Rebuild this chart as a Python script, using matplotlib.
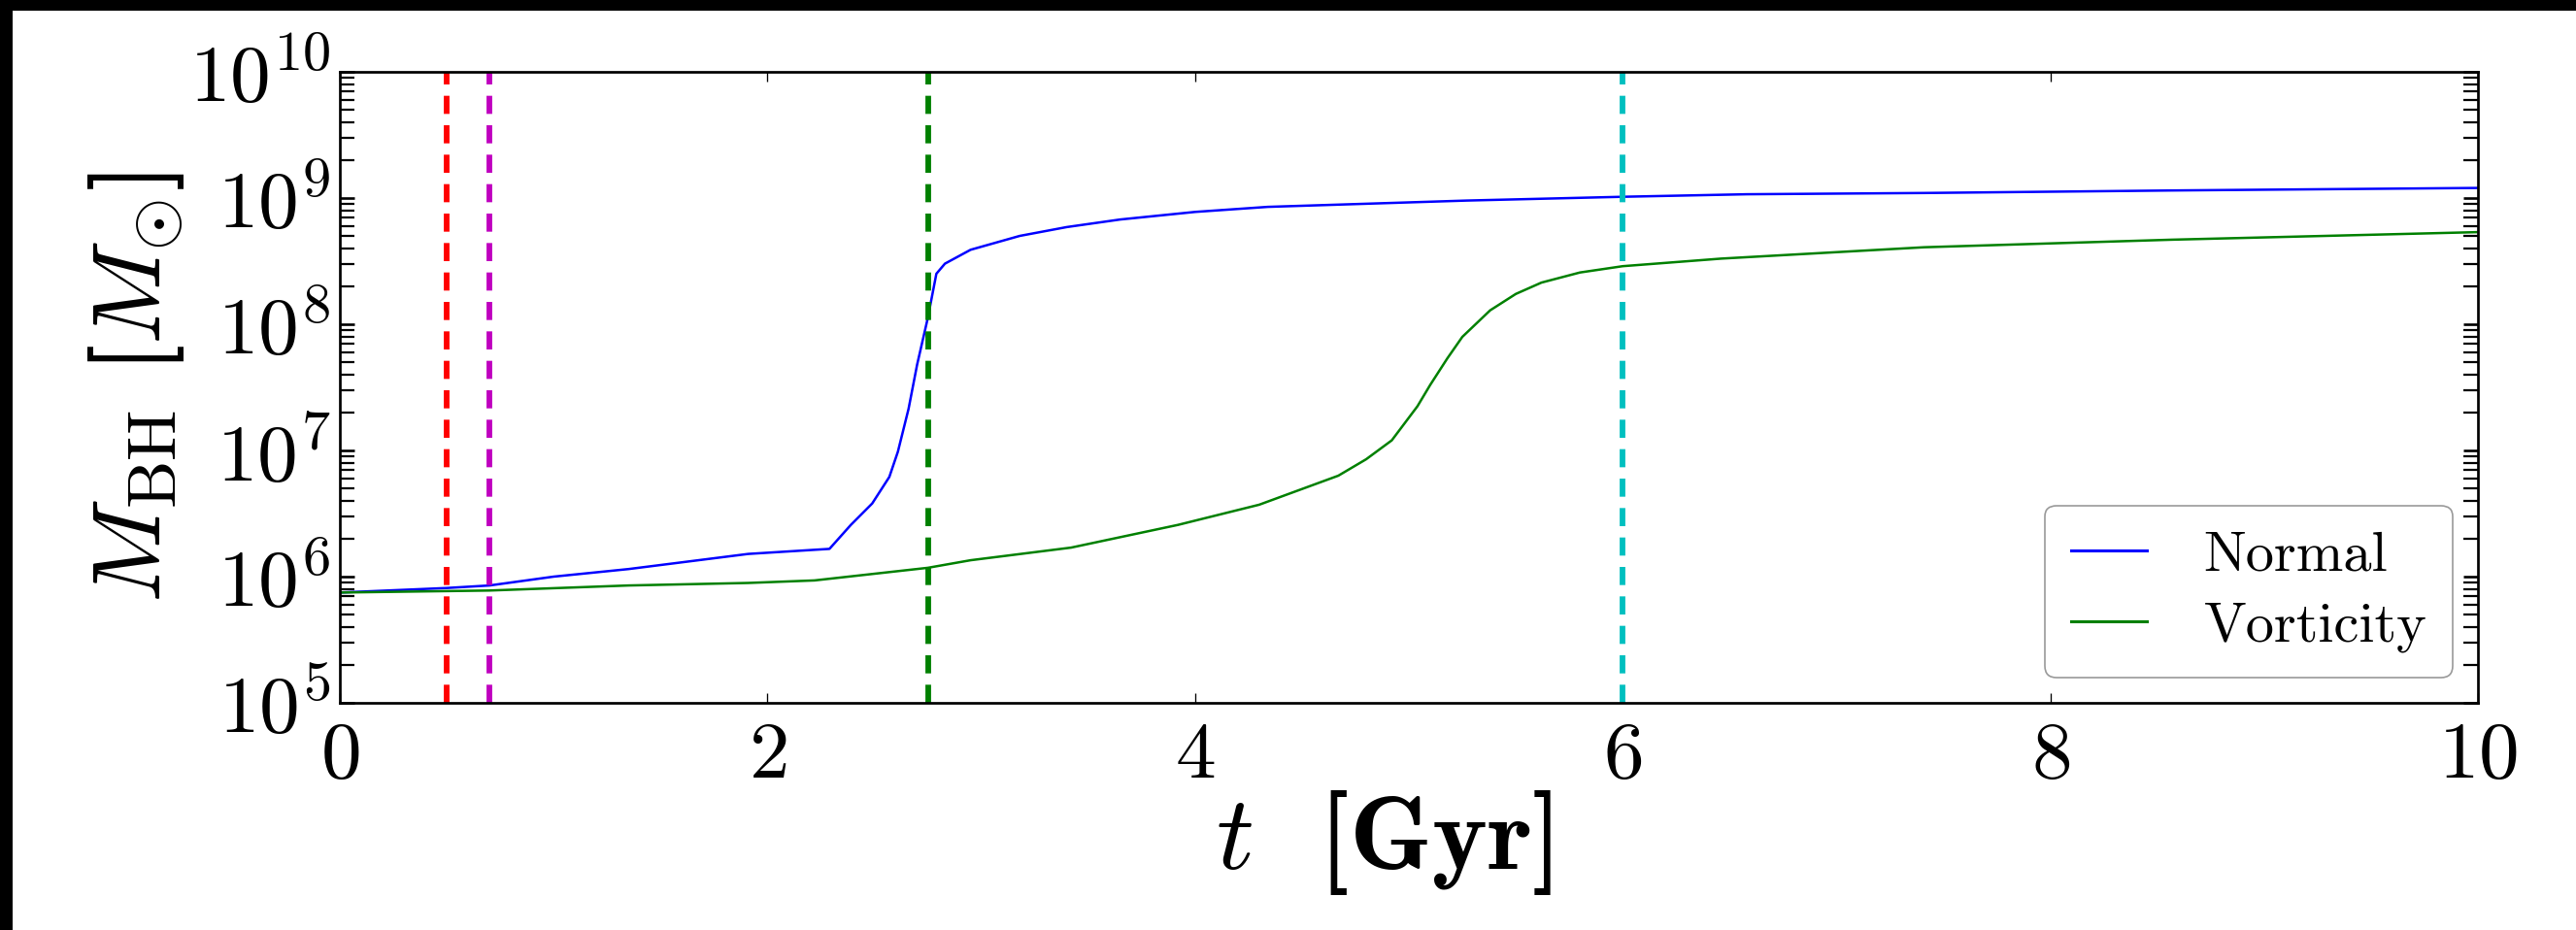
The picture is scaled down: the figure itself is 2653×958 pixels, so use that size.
import matplotlib
matplotlib.use("Agg")
import matplotlib.pyplot as plt
from matplotlib.patches import Rectangle
from matplotlib.ticker import LogLocator, NullFormatter
import numpy as np

plt.rcParams['font.family'] = 'serif'
plt.rcParams['font.serif'] = ['cmr10']
plt.rcParams['mathtext.fontset'] = 'cm'
plt.rcParams['axes.formatter.use_mathtext'] = True

# ---- data ----
t_normal = [0.0, 0.5, 0.7, 1.0, 1.35, 1.91, 2.29, 2.39, 2.49, 2.57, 2.61, 2.66,
            2.70, 2.75, 2.79, 2.83, 2.95, 3.18, 3.40, 3.65, 4.00, 4.34, 5.27,
            6.0, 6.58, 7.41, 8.57, 10.0]
logm_normal = [5.874, 5.91, 5.93, 6.00, 6.06, 6.18, 6.22, 6.41, 6.58, 6.79, 6.99,
               7.33, 7.68, 8.05, 8.40, 8.48, 8.59, 8.70, 8.77, 8.83, 8.89, 8.93,
               8.98, 9.01, 9.03, 9.04, 9.06, 9.08]

t_vort = [0.0, 0.7, 1.35, 1.91, 2.22, 2.75, 2.95, 3.42, 3.92, 4.30, 4.67, 4.80,
          4.92, 5.04, 5.10, 5.18, 5.25, 5.38, 5.50, 5.62, 5.80, 6.0, 6.46,
          7.41, 8.57, 10.0]
logm_vort = [5.874, 5.89, 5.93, 5.95, 5.97, 6.07, 6.13, 6.23, 6.41, 6.57, 6.80,
             6.93, 7.08, 7.35, 7.52, 7.73, 7.90, 8.11, 8.24, 8.33, 8.41, 8.46,
             8.52, 8.61, 8.67, 8.73]

event_times = [0.5, 0.7, 2.75, 6.0]
event_colors = ['r', 'm', 'g', 'c']

series_labels = ['Normal', 'Vorticity']
x_ticks = [0, 2, 4, 6, 8, 10]

W, H = 2653, 958
fig = plt.figure(figsize=(W / 100, H / 100), dpi=100)
fig.patch.set_facecolor('white')

L, R, T, B = 350, 2552, 74, 724
ax = fig.add_axes([L / W, 1 - B / H, (R - L) / W, (B - T) / H])

ax.plot(t_normal, 10 ** np.array(logm_normal), color='b', lw=1.8, label=series_labels[0])
ax.plot(t_vort, 10 ** np.array(logm_vort), color='g', lw=1.8, label=series_labels[1])
for xv, c in zip(event_times, event_colors):
    ax.axvline(xv, color=c, lw=4.2, linestyle=(0, (3.2, 2.0)))

ax.set_yscale('log')
ax.set_xlim(0, 10)
ax.set_ylim(1e5, 1e10)
ax.set_xticks(x_ticks)
ax.yaxis.set_major_locator(LogLocator(base=10, numticks=20))
ax.yaxis.set_minor_locator(LogLocator(base=10, subs=np.arange(2, 10), numticks=20))
ax.yaxis.set_minor_formatter(NullFormatter())

for s in ax.spines.values():
    s.set_linewidth(1.95)

ax.tick_params(axis='x', which='major', direction='in', top=True, bottom=True,
               length=7.2, width=0.95, labelsize=60, pad=14)
ax.tick_params(axis='y', which='major', direction='in', left=True, right=True,
               length=10.8, width=1.9, labelsize=60, pad=7)
ax.tick_params(axis='y', which='minor', direction='in', left=True, right=True,
               length=10.8, width=1.6)

ax.set_xlabel(r'$t\,\,$ [Gyr]', fontsize=78, family='cmb10')
ax.set_ylabel(r'$M_{\rm BH}$ [$M_{\odot}$]', fontsize=72, family='cmb10')
ax.xaxis.set_label_coords((1425 - 350) / 2202, (724 - 812) / 650)
ax.yaxis.set_label_coords((192 - 350) / 2202, 0.5)

leg = ax.legend(loc='lower right', fontsize=42, handlelength=1.35,
                handletextpad=1.0, labelspacing=0.35, borderpad=0.45,
                borderaxespad=0.45, fancybox=True, frameon=True)
leg.get_frame().set_edgecolor('#808080')
leg.get_frame().set_linewidth(1.2)
for ln in leg.get_lines():
    ln.set_linewidth(2.2)

# black strips at the top and left edges of the picture
fig.add_artist(Rectangle((0, 0), 13 / W, 1, transform=fig.transFigure,
                         facecolor='black', edgecolor='none', zorder=10))
fig.add_artist(Rectangle((0, 1 - 11 / H), 1, 11 / H, transform=fig.transFigure,
                         facecolor='black', edgecolor='none', zorder=10))

fig.savefig('out.png', dpi=100)
